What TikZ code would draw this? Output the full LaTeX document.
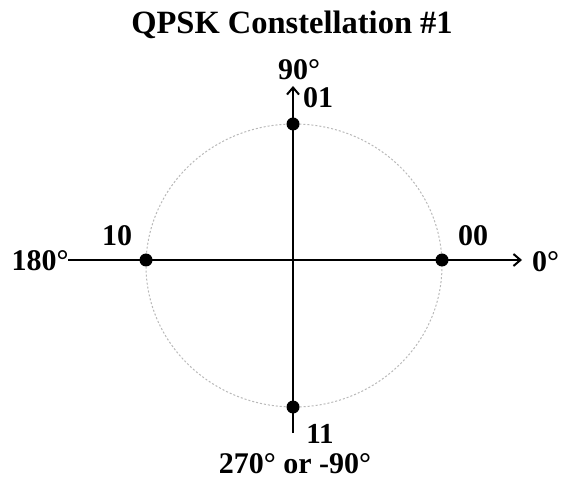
\documentclass[tikz,border=0pt]{standalone}
\usepackage{fontspec}
\setmainfont{Liberation Serif}
\usetikzlibrary{arrows.meta}
\begin{document}
\begin{tikzpicture}[x=1pt,y=1pt,
  lbl/.style={inner sep=0pt,font=\fontsize{30}{33}\selectfont\bfseries},
  axis/.style={line width=2.8pt,black},
  dot/.style={circle,fill=black,inner sep=0pt,minimum size=13pt},
  ring/.style={gray!55,line width=1pt,dash pattern=on 2pt off 2pt}]
\useasboundingbox (0,0) rectangle (561,479);
\fill[white] (0,0) rectangle (561,479);
\draw[ring] (294,213.5) ellipse [x radius=148, y radius=141.5];
\coordinate (L) at (68,219);
\coordinate (R) at (522,219);
\coordinate (B) at (293,46);
\coordinate (T) at (293,393);
\draw[axis,-{Straight Barb[length=7pt,width=12pt,line width=2pt]}] (L) -- (R);
\draw[axis,-{Straight Barb[length=7pt,width=12pt,line width=2pt]}] (B) -- (T);
\node[dot] (d00) at (442,219) {};
\node[dot] (d10) at (146,219) {};
\node[dot] (d01) at (293,355) {};
\node[dot] (d11) at (293,72) {};
\node[lbl,font=\fontsize{32.5}{35}\selectfont\bfseries] (title) at (292,454) {QPSK Constellation \#1};
\node[lbl] (t90) at (299,409) {90°};
\node[lbl] (t01) at (318,381) {01};
\node[lbl] (t10) at (117,243) {10};
\node[lbl] (t180) at (40,218) {180°};
\node[lbl] (t00) at (473,243) {00};
\node[lbl,anchor=west] (t0) at (532,217) {0°};
\node[lbl,font=\fontsize{29}{32}\selectfont\bfseries] (t11) at (320,45.5) {11};
\node[lbl] (t270) at (295,15.5) {270° or -90°};
\end{tikzpicture}
\end{document}
